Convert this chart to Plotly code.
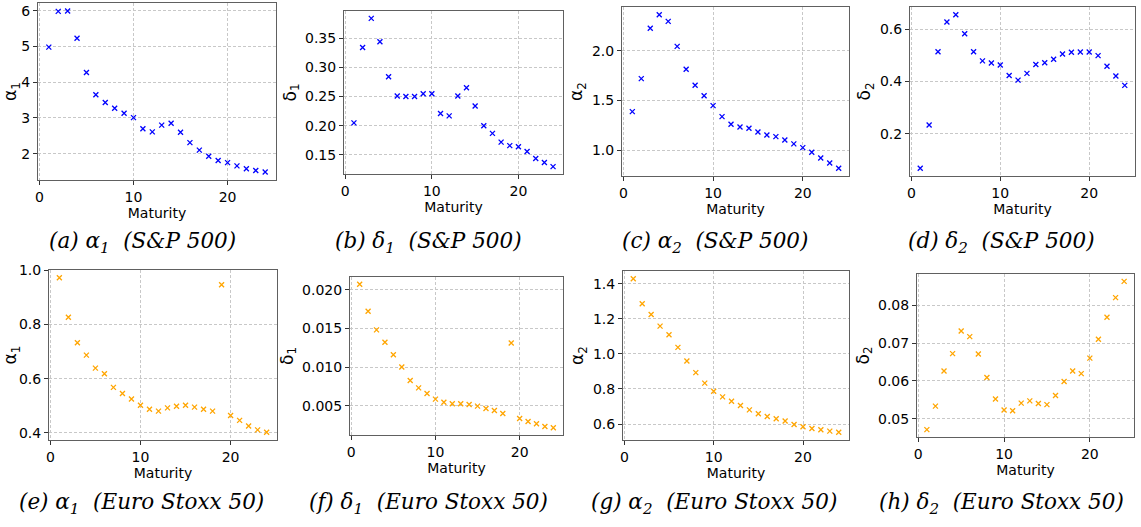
import numpy as np
import plotly.graph_objects as go
from plotly.subplots import make_subplots

maturity = list(range(1, 25))

# S&P 500 parameters
sp_alpha1 = [4.98, 5.98, 5.99, 5.23, 4.27, 3.65, 3.43, 3.27, 3.13, 3.01, 2.70, 2.61,
             2.80, 2.85, 2.60, 2.31, 2.10, 1.93, 1.81, 1.75, 1.66, 1.58, 1.53, 1.49]
sp_delta1 = [0.205, 0.334, 0.384, 0.344, 0.284, 0.251, 0.250, 0.250, 0.255, 0.255, 0.221, 0.217,
             0.251, 0.265, 0.234, 0.200, 0.187, 0.172, 0.166, 0.164, 0.156, 0.144, 0.137, 0.130]
sp_alpha2 = [1.388, 1.719, 2.224, 2.361, 2.294, 2.043, 1.813, 1.652, 1.548, 1.448, 1.338, 1.261,
             1.234, 1.221, 1.184, 1.154, 1.137, 1.104, 1.064, 1.027, 0.980, 0.923, 0.873, 0.819]
sp_delta2 = [0.067, 0.233, 0.514, 0.628, 0.656, 0.583, 0.514, 0.479, 0.471, 0.463, 0.423, 0.405,
             0.431, 0.465, 0.472, 0.485, 0.505, 0.512, 0.513, 0.513, 0.499, 0.458, 0.421, 0.385]

# Euro Stoxx 50 parameters
es_alpha1 = [0.973, 0.827, 0.733, 0.687, 0.639, 0.618, 0.568, 0.545, 0.525, 0.502, 0.487, 0.480,
             0.492, 0.498, 0.502, 0.495, 0.487, 0.480, 0.947, 0.464, 0.446, 0.425, 0.411, 0.402]
es_delta1 = [0.0207, 0.0172, 0.0148, 0.0132, 0.0116, 0.0100, 0.00827, 0.00732, 0.00659, 0.00586,
             0.00547, 0.00526, 0.00526, 0.00517, 0.00496, 0.00466, 0.00440, 0.00401, 0.0131,
             0.00337, 0.00298, 0.00268, 0.00234, 0.00216]
es_alpha2 = [1.428, 1.285, 1.224, 1.158, 1.109, 1.037, 0.959, 0.893, 0.833, 0.787, 0.755, 0.730,
             0.706, 0.681, 0.659, 0.643, 0.630, 0.617, 0.598, 0.585, 0.575, 0.568, 0.560, 0.553]
es_delta2 = [0.0471, 0.0533, 0.0626, 0.0672, 0.0732, 0.0717, 0.0671, 0.0609, 0.0552, 0.0523,
             0.0521, 0.0541, 0.0547, 0.0540, 0.0537, 0.0561, 0.0598, 0.0626, 0.0619, 0.0660,
             0.0710, 0.0768, 0.0820, 0.0863]

W, H = 1141, 527

# (series, color, y label, caption, dtick, tickformat, box px [x0, x1, y0, y1])
panels = [
    (sp_alpha1, 'blue', 'α<sub>1</sub>', '(a) α<sub>1</sub>  (S&amp;P 500)', 1, '.0f', [38, 276, 3, 180]),
    (sp_delta1, 'blue', 'δ<sub>1</sub>', '(b) δ<sub>1</sub>  (S&amp;P 500)', 0.05, '.2f', [344, 563, 11, 174]),
    (sp_alpha2, 'blue', 'α<sub>2</sub>', '(c) α<sub>2</sub>  (S&amp;P 500)', 0.5, '.1f', [622, 849, 7, 176]),
    (sp_delta2, 'blue', 'δ<sub>2</sub>', '(d) δ<sub>2</sub>  (S&amp;P 500)', 0.2, '.1f', [910, 1135, 7, 176]),
    (es_alpha1, 'orange', 'α<sub>1</sub>', '(e) α<sub>1</sub>  (Euro Stoxx 50)', 0.2, '.1f', [49, 277, 270, 440]),
    (es_delta1, 'orange', 'δ<sub>1</sub>', '(f) δ<sub>1</sub>  (Euro Stoxx 50)', 0.005, '.3f', [350, 563, 277, 435]),
    (es_alpha2, 'orange', 'α<sub>2</sub>', '(g) α<sub>2</sub>  (Euro Stoxx 50)', 0.2, '.1f', [623, 849, 271, 440]),
    (es_delta2, 'orange', 'δ<sub>2</sub>', '(h) δ<sub>2</sub>  (Euro Stoxx 50)', 0.01, '.2f', [917, 1134, 274, 437]),
]
caption_x = [142, 428, 715, 1001, 141, 428, 714, 1001]
caption_y = [242, 242, 242, 242, 503, 503, 503, 503]

fig = make_subplots(rows=2, cols=4)

tick_font = dict(family='DejaVu Sans', size=14, color='black')
axis_style = dict(showline=True, linecolor='#606060', linewidth=1, mirror=True,
                  showgrid=True, gridcolor='#c8c8c8', griddash='3px,2px', gridwidth=0.8,
                  ticks='outside', ticklen=4, tickcolor='#333', tickfont=tick_font,
                  zeroline=False, automargin=False)

for i, (vals, col, ylab, cap, dt, fmt, box) in enumerate(panels):
    r, c = i // 4 + 1, i % 4 + 1
    fig.add_trace(go.Scatter(x=maturity, y=vals, mode='markers',
                             marker=dict(symbol='x-thin', size=5, color=col,
                                         line=dict(width=1.3, color=col)),
                             showlegend=False), row=r, col=c)
    x0, x1, y0, y1 = box
    lo, hi = min(vals), max(vals)
    pad = 0.05 * (hi - lo)
    xpad = 0.05 * (24 - 1)
    fig.update_xaxes(domain=[x0 / W, x1 / W], range=[1 - xpad, 24 + xpad], dtick=10, tick0=0,
                     title=dict(text='Maturity', font=tick_font, standoff=0),
                     **axis_style, row=r, col=c)
    fig.update_yaxes(domain=[1 - y1 / H, 1 - y0 / H], range=[lo - pad, hi + pad],
                     dtick=dt, tick0=0, tickformat=fmt,
                     title=dict(text=ylab, font=dict(family='DejaVu Sans', size=17, color='black'),
                                standoff=4),
                     **axis_style, row=r, col=c)
    fig.add_annotation(x=caption_x[i] / W, y=1 - caption_y[i] / H, xref='paper', yref='paper',
                       xanchor='center', yanchor='middle',
                       text='<i>' + cap + '</i>', showarrow=False,
                       font=dict(family='DejaVu Serif', size=21.5, color='black'))

fig.update_layout(width=W, height=H, margin=dict(l=0, r=0, t=0, b=0),
                  plot_bgcolor='white', paper_bgcolor='white')

fig.write_html('out.html', config={'displayModeBar': False},
               post_script="document.body.style.margin='0';")
